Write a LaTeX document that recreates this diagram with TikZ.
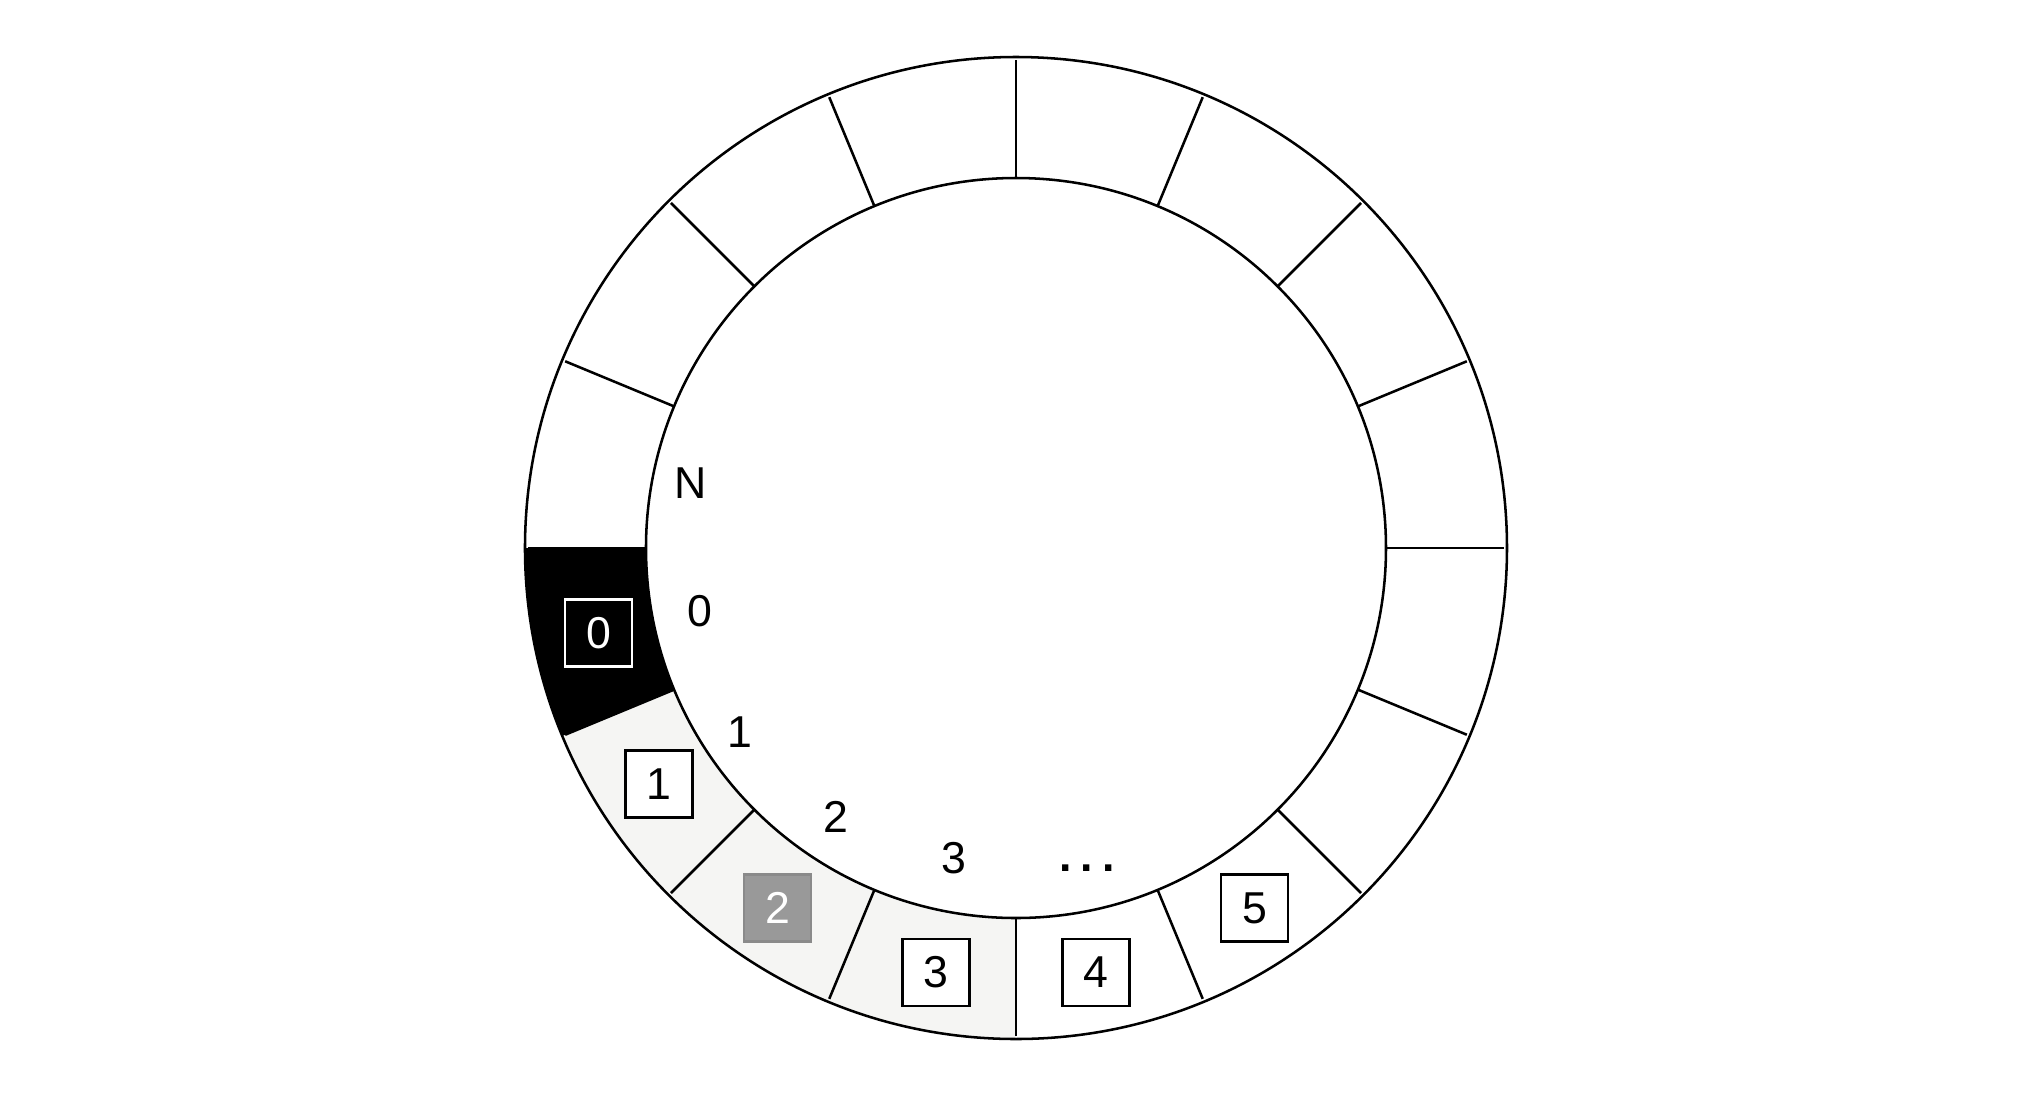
\documentclass[tikz,border=0pt]{standalone}
\usepackage{fontspec}
\setmainfont{Liberation Sans}
\usetikzlibrary{positioning}
\definecolor{usedgray}{HTML}{F5F5F3}
\definecolor{nextgray}{HTML}{999999}

\begin{document}
\begin{tikzpicture}[x=0.01cm, y=0.01cm,
		every node/.style={font=\fontsize{12.7}{15}\selectfont},
		ring/.style={line width=0.72pt},
		slot/.style={draw, line width=0.72pt, fill=white, minimum size=0.67cm, inner sep=0pt},
		headslot/.style={slot, fill=black, draw=white, text=white},
		nextslot/.style={slot, fill=nextgray, draw=nextgray!90!black, text=white},
		idx/.style={inner sep=1pt}]
			\useasboundingbox (-1016,-557) rectangle (1017,548);
			\coordinate (c) at (0,0);
			% Filled sectors
			\fill[usedgray] (202.5:370) arc[start angle=202.5, end angle=270, radius=370]
				-- (270:491) arc[start angle=270, end angle=202.5, radius=491] -- cycle;
			\fill[black] (180:370) arc[start angle=180, end angle=202.5, radius=370]
				-- (202.5:491) arc[start angle=202.5, end angle=180, radius=491] -- cycle;
			% Ring
			\draw[ring] (c) circle[radius=491];
			\draw[ring] (c) circle[radius=370];
			\foreach \a in {0,22.5,...,337.5}
				\draw[ring] (\a:370) -- (\a:488);
			% Nodes
			\node[headslot] (s0) at (191.5:426) {0};
			\node[slot] (s1) at (213.5:428) {1};
			\node[nextslot] (s2) at (236.5:432) {2};
			\node[slot] (s3) at (259.3:432) {3};
			\node[slot] (s4) at (280.7:432) {4};
			\node[slot] (s5) at (303.5:432) {5};
			% Index labels
			\node[idx] (lN) at (168.75:332) {N};
			\node[idx] (l0) at (191.25:322) {0};
			\node[idx] (l1) at (213.75:332) {1};
			\node[idx] (l2) at (236.25:324) {2};
			\node[idx] (l3) at (258.75:316) {3};
			\node[idx] (ldots) at (282.5:328) {\textbf{.\hspace{0.2em}.\hspace{0.2em}.}};
		\end{tikzpicture}
\end{document}
